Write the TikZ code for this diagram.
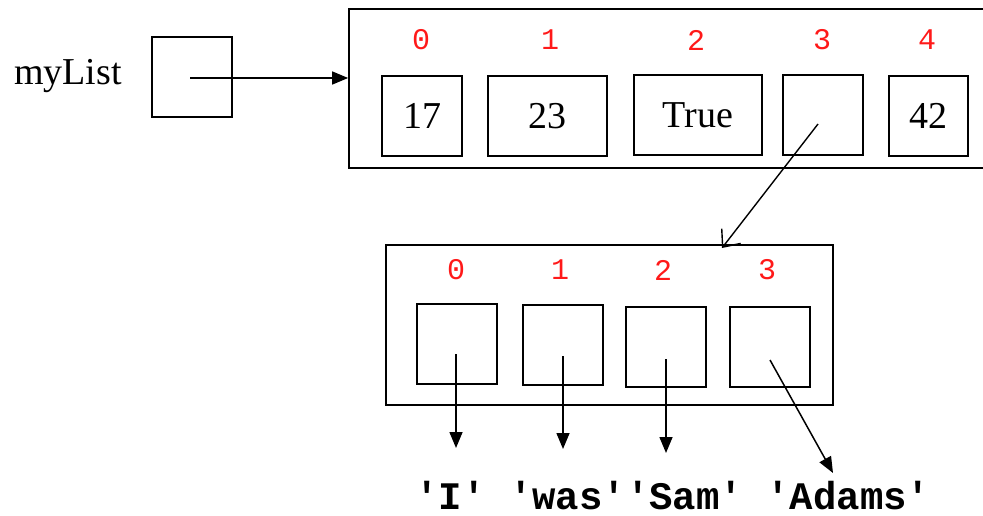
\documentclass[tikz,border=0pt]{standalone}
\usepackage{fontspec}
\setmainfont{Liberation Serif}
\setmonofont{Liberation Mono}
\usetikzlibrary{arrows.meta}
\begin{document}
\begin{tikzpicture}[x=1pt,y=-1pt,
  cell/.style={draw,line width=1.4pt,minimum width=80pt,minimum height=80pt,inner sep=0pt,
    font=\fontsize{38}{40}\selectfont},
  frame/.style={draw,line width=1.7pt,inner sep=0pt},
  idx/.style={text=red!90!white,font=\ttfamily\fontsize{30}{32}\selectfont,inner sep=0pt},
  str/.style={font=\ttfamily\bfseries\fontsize{39}{40}\selectfont,inner sep=0pt,anchor=base},
  ptr/.style={line width=1.5pt,-{Triangle[length=16pt,width=13pt]}},
  ref/.style={line width=1.4pt,-{Straight Barb[length=14pt,width=24pt,line width=1.4pt]}}]
\useasboundingbox (0,0) rectangle (983,516);

% the variable and its box
\node[font=\fontsize{38}{40}\selectfont,inner sep=0pt] (name) at (68,76) {myList};
\node[cell,line width=1.3pt] (ml) at (192,77) {};

% outer list
\node[frame,minimum width=651pt,minimum height=159pt] (top) at (674.5,88.5) {};
\node[cell] (a0) at (422,116) {17};
\node[cell,minimum width=119pt] (a1) at (547.5,116) {23};
\node[cell,minimum width=128pt] (a2) at (698,115) {True};
\node[cell] (a3) at (823,115) {};
\node[cell,minimum width=79pt] (a4) at (928.5,116) {42};
\node[idx] (i0) at (421,40) {0};
\node[idx] (i1) at (550,40) {1};
\node[idx] (i2) at (696,40) {2};
\node[idx] (i3) at (822,40) {3};
\node[idx] (i4) at (927,40) {4};

% inner list
\node[frame,minimum width=447pt,minimum height=160pt] (bot) at (609.5,325) {};
\node[cell] (b0) at (457,344) {};
\node[cell] (b1) at (563,345) {};
\node[cell] (b2) at (666,347) {};
\node[cell] (b3) at (770,347) {};
\node[idx] (j0) at (456,270) {0};
\node[idx] (j1) at (560,270) {1};
\node[idx] (j2) at (663,270) {2};
\node[idx] (j3) at (767,270) {3};

% the strings the inner list refers to
\node[str] (strs) at (673,509) {'I' 'was''Sam' 'Adams'};

% pointer end points
\coordinate (m0) at (190,78);
\coordinate (p3) at (818,124);
\coordinate (q3) at (722,248);
\coordinate (c0) at (456,354);
\coordinate (c1) at (563,356);
\coordinate (c2) at (666,359);
\coordinate (c3) at (770,360);
\coordinate (e0) at (456,448);
\coordinate (e1) at (563,449);
\coordinate (e2) at (666,453);
\coordinate (e3) at (833,473);

\draw[ptr] (m0) -- (top.west |- m0);
\draw[ref] (p3) -- (q3);
\draw[ptr] (c0) -- (e0);
\draw[ptr] (c1) -- (e1);
\draw[ptr] (c2) -- (e2);
\draw[ptr] (c3) -- (e3);
\end{tikzpicture}
\end{document}
